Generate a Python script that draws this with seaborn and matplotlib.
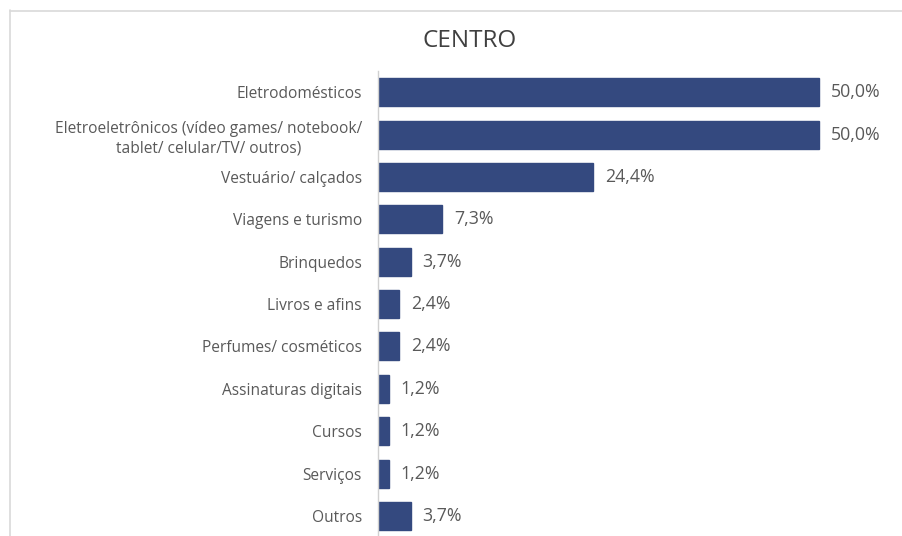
import matplotlib
matplotlib.use("Agg")
import matplotlib.pyplot as plt
from matplotlib.lines import Line2D
import seaborn as sns
import pandas as pd

categorias = [
    "Eletrodomésticos",
    "Eletroeletrônicos (vídeo games/ notebook/\ntablet/ celular/TV/ outros)",
    "Vestuário/ calçados",
    "Viagens e turismo",
    "Brinquedos",
    "Livros e afins",
    "Perfumes/ cosméticos",
    "Assinaturas digitais",
    "Cursos",
    "Serviços",
    "Outros",
]
percentuais = [50.0, 50.0, 24.4, 7.3, 3.7, 2.4, 2.4, 1.2, 1.2, 1.2, 3.7]
titulo = "CENTRO"

df = pd.DataFrame({"categoria": categorias, "pct": percentuais})

sns.set_theme(style="white")
plt.rcParams["font.family"] = ["Open Sans", "DejaVu Sans"]

W, H = 903, 536
fig = plt.figure(figsize=(W / 100, H / 100), dpi=100)
fig.patch.set_facecolor("white")

# moldura do gráfico (topo e lado esquerdo)
borda = dict(color="#d9d9d9", linewidth=1.2, transform=fig.transFigure)
fig.lines.append(Line2D([10 / W, 1.01], [1 - 10.5 / H] * 2, **borda))
fig.lines.append(Line2D([10.5 / W] * 2, [-0.01, 1 - 10 / H], **borda))

ax_left_px, ax_right_px = 378, 880
top_px, bot_px = 71, 537.2
ax = fig.add_axes([ax_left_px / W, 1 - bot_px / H,
                   (ax_right_px - ax_left_px) / W, (bot_px - top_px) / H])

cor = "#34497F"
sns.barplot(data=df, x="pct", y="categoria", orient="h", color=cor,
            width=0.66, saturation=1, ax=ax, edgecolor=cor)

xmax = 50 * (ax_right_px - ax_left_px) / (819 - ax_left_px)
ax.set_xlim(0, xmax)
ax.set_ylim(len(categorias) - 0.5, -0.5)

for i, v in enumerate(percentuais):
    ax.text(v + 1.35, i, f"{v:.1f}%".replace(".", ","), va="center", ha="left",
            fontsize=12.8, color="#595959", clip_on=False)

ax.set_xlabel("")
ax.set_ylabel("")
ax.set_xticks([])
ax.tick_params(axis="y", length=0, pad=11.5, labelsize=11.2, labelcolor="#595959")
for lab in ax.get_yticklabels():
    lab.set_multialignment("center")
    lab.set_linespacing(1.3)
for s in ["top", "right", "bottom"]:
    ax.spines[s].set_visible(False)
ax.spines["left"].set_color("#d0d0d0")
ax.spines["left"].set_linewidth(1)
ax.patch.set_alpha(0)

fig.text(470 / W, 1 - 41 / H, titulo, ha="center", va="center",
         fontsize=17.5, color="#404040")

fig.savefig("out.png", dpi=100)
